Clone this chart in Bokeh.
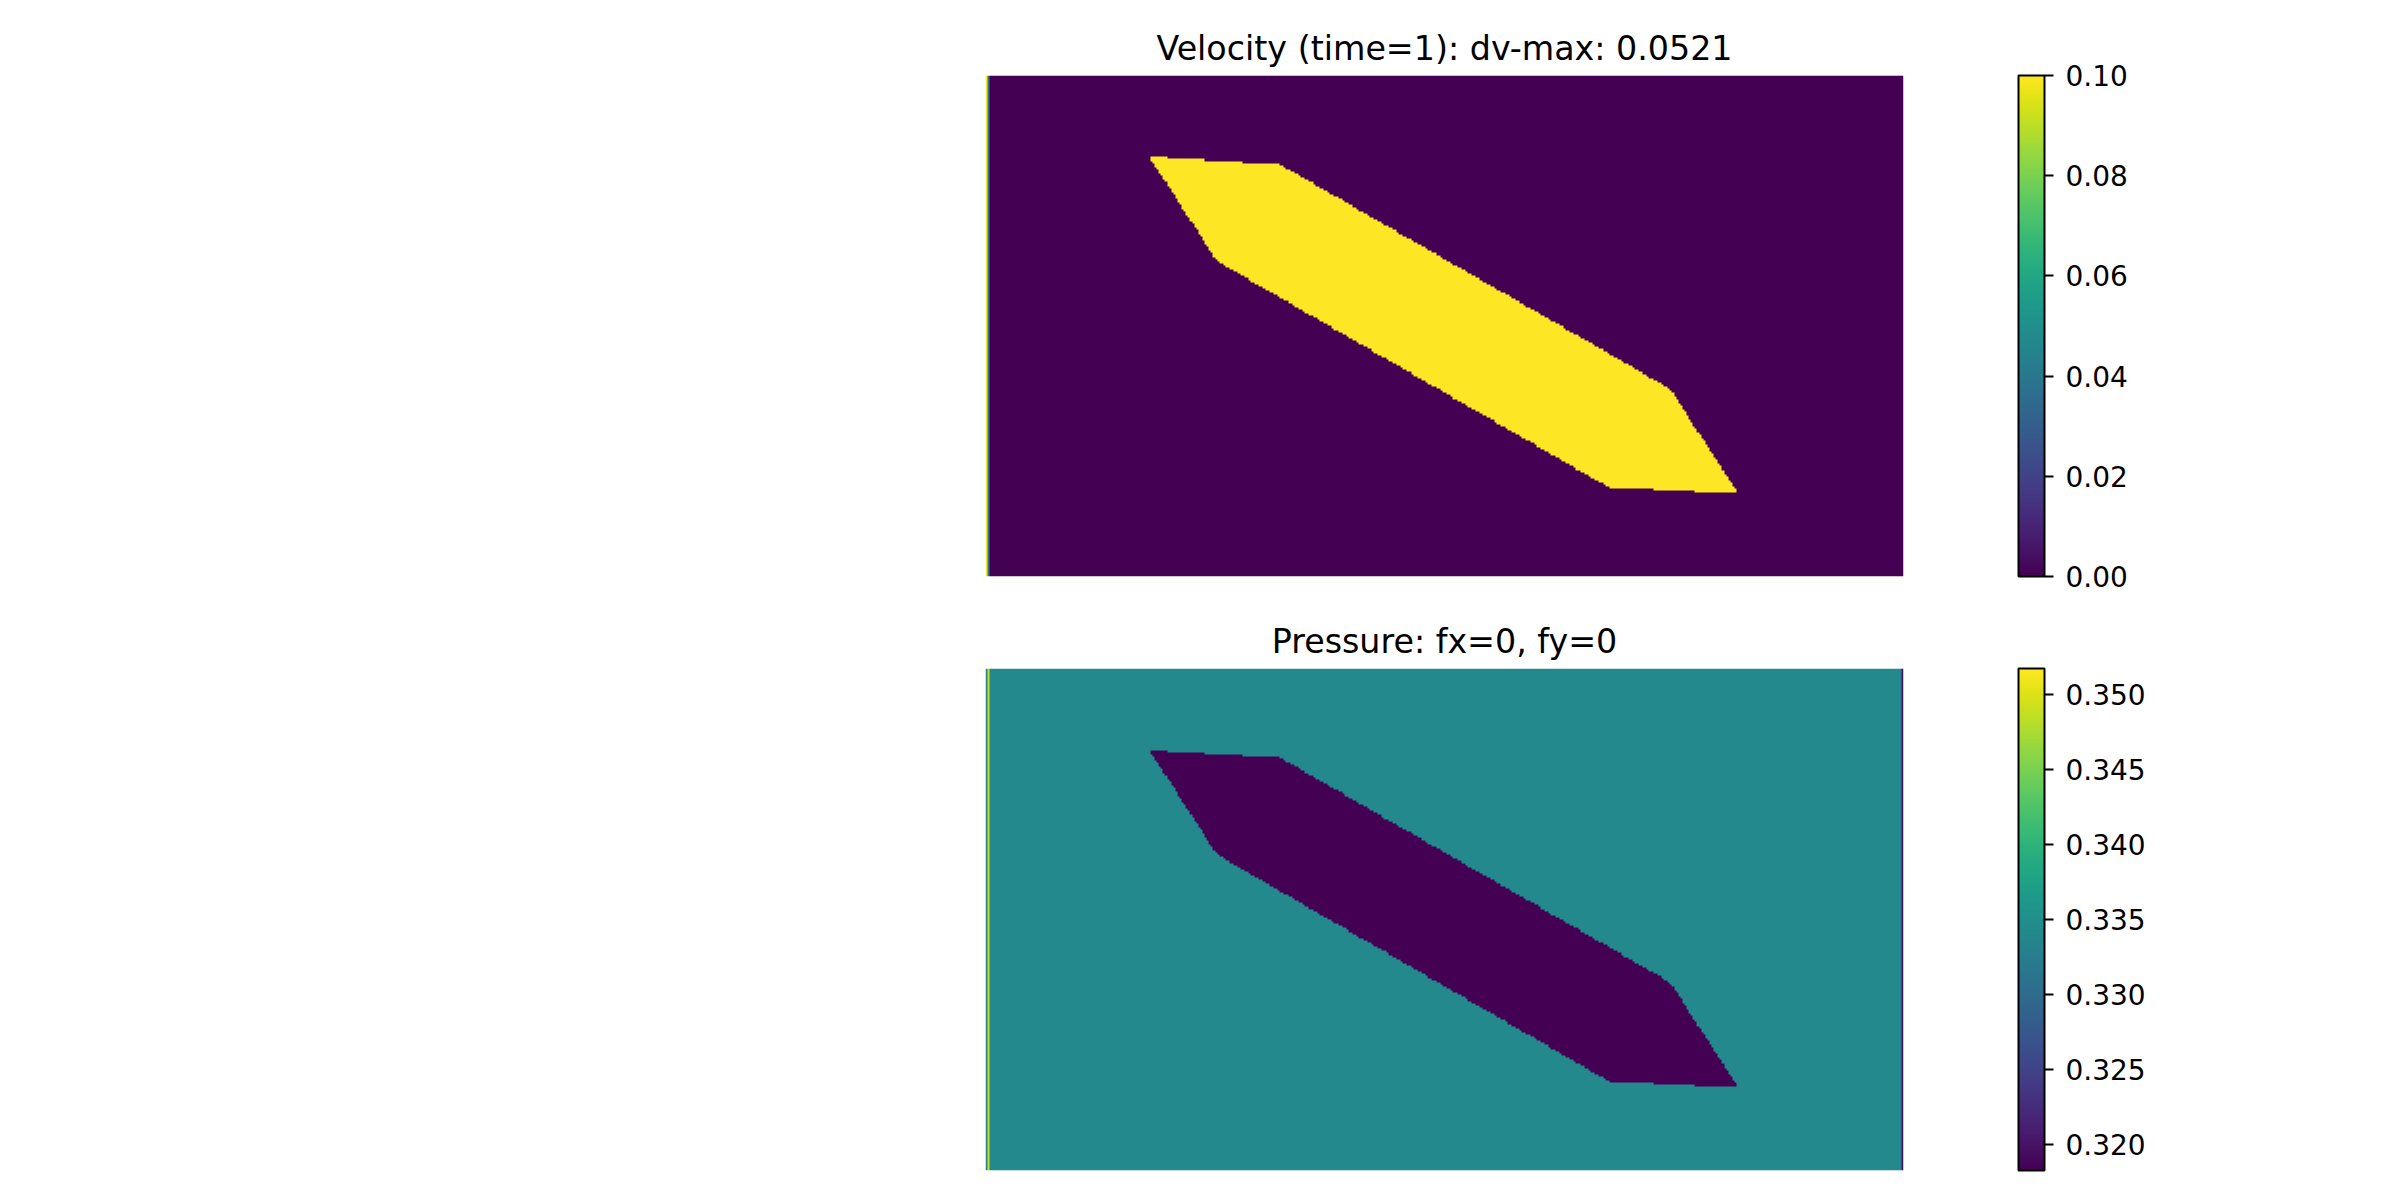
import numpy as np
from bokeh.plotting import figure
from bokeh.layouts import column
from bokeh.models import LinearColorMapper, ColorBar, FixedTicker, PrintfTickFormatter, Range1d
from bokeh.palettes import Viridis256
from bokeh.embed import file_html
from bokeh.resources import INLINE

# ---- data ----
NX, NY = 440, 240  # lattice size (cells)
# obstacle polygon vertices in lattice coordinates (x right, y down from top)
obstacle_x = [78.5, 141, 328, 361, 299, 111]
obstacle_y = [39, 42.5, 150, 200.5, 197.5, 89]

vel_titles = "Velocity (time=1): dv-max: 0.0521"
vel_fluid = 0.0
vel_obstacle = 0.1
vel_inlet_cols = [0.1, 0.04]          # first two columns
vel_range = (0.0, 0.1)
vel_ticks = [0.00, 0.02, 0.04, 0.06, 0.08, 0.10]

pres_title = "Pressure: fx=0, fy=0"
pres_fluid = 0.3340
pres_obstacle = 0.3183
pres_inlet_cols = [0.3335, 0.3490]    # first two columns
pres_outlet_col = 0.3195              # last column
pres_range = (0.3183, 0.3517)
pres_ticks = [0.320, 0.325, 0.330, 0.335, 0.340, 0.345, 0.350]


def obstacle_mask():
    xs = np.arange(NX) + 0.5
    ys = np.arange(NY) + 0.5
    X, Y = np.meshgrid(xs, ys)
    inside = np.zeros(X.shape, dtype=bool)
    px, py = obstacle_x, obstacle_y
    n = len(px)
    j = n - 1
    for i in range(n):
        xi, yi, xj, yj = px[i], py[i], px[j], py[j]
        cond = ((yi > Y) != (yj > Y)) & (X < (xj - xi) * (Y - yi) / (yj - yi + 1e-12) + xi)
        inside ^= cond
        j = i
    return inside


mask = obstacle_mask()

vel = np.full((NY, NX), vel_fluid)
vel[mask] = vel_obstacle
vel[:, 0] = vel_inlet_cols[0]
vel[:, 1] = vel_inlet_cols[1]

pres = np.full((NY, NX), pres_fluid)
pres[mask] = pres_obstacle
pres[:, 0] = pres_inlet_cols[0]
pres[:, 1] = pres_inlet_cols[1]
pres[:, -1] = pres_outlet_col

FONT = "DejaVu Sans"


def panel(field, title, rng, ticks, fmt, border_top, border_bottom, height):
    p = figure(width=2400, height=height, output_backend="svg", toolbar_location=None,
               x_range=Range1d(0, NX), y_range=Range1d(0, NY),
               min_border_left=985, min_border_right=497,
               min_border_top=border_top, min_border_bottom=border_bottom,
               title=title)
    p.axis.visible = False
    p.grid.visible = False
    p.outline_line_color = None
    p.title.align = "center"
    p.title.text_font = FONT
    p.title.text_font_size = "33.3px"
    p.title.text_font_style = "normal"
    p.title.text_color = "black"
    p.title.standoff = 16
    mapper = LinearColorMapper(palette=Viridis256, low=rng[0], high=rng[1])
    p.image(image=[np.flipud(field)], x=0, y=0, dw=NX, dh=NY, color_mapper=mapper)
    cb = ColorBar(color_mapper=mapper, ticker=FixedTicker(ticks=ticks),
                  formatter=PrintfTickFormatter(format=fmt),
                  major_label_text_font=FONT, major_label_text_font_size="28px",
                  major_label_text_color="black",
                  major_tick_line_color="black", major_tick_line_width=2,
                  major_tick_out=9, major_tick_in=0, minor_tick_line_color=None,
                  bar_line_color="black", bar_line_width=2,
                  width=26, height=height - border_top - border_bottom,
                  padding=0, margin=0, label_standoff=12,
                  background_fill_alpha=0, border_line_color=None,
                  location=(1033, 0))
    p.add_layout(cb)
    return p


p1 = panel(vel, vel_titles, vel_range, vel_ticks, "%.2f", 75, 24, 600)
p2 = panel(pres, pres_title, pres_range, pres_ticks, "%.3f", 68, 30, 600)

layout = column(p1, p2, spacing=0)
open("out.html", "w").write(file_html(layout, INLINE))
